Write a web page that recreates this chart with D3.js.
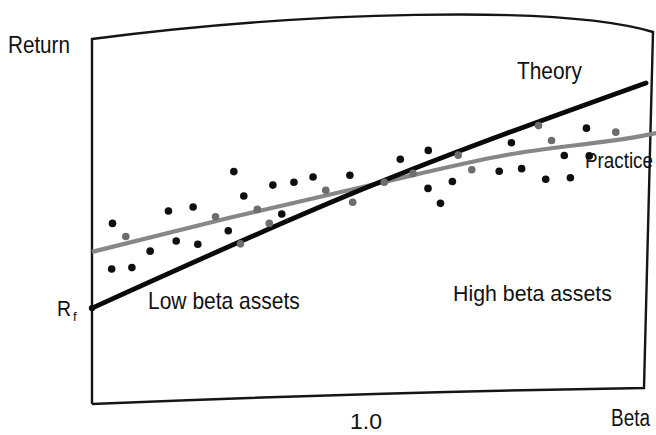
<!DOCTYPE html>
<html><head><meta charset="utf-8">
<script src="https://cdn.jsdelivr.net/npm/d3@7"></script>
<style>
html,body{margin:0;padding:0;background:#fff;}
svg{display:block;}
text{font-family:"Liberation Sans",Arial,sans-serif;fill:#111;}
</style></head>
<body>
<svg id="chart" width="656" height="435"></svg>
<script>
// ---- data ----
const betaDomain = [0, 2];
const returnDomain = [0, 100];
const xTickValues = [1.0];
const xTickLabels = ["1.0"];
const riskFree = 26;
const theoryBeta = [0, 1, 2];
const theoryReturn = [26, 59.3, 87.7];
const practiceBeta = [0, 0.5, 1.0, 1.5, 2.0, 2.04];
const practiceReturn = [41.4, 50.8, 59.6, 68, 73.4, 74.0];
const blackBeta = [0.074,0.071,0.144,0.210,0.276,0.304,0.365,0.382,0.512,0.548,0.492,0.653,0.685,0.729,0.798,0.931,1.113,1.214,1.213,1.258,1.301,1.470,1.514,1.551,1.638,1.705,1.727,1.785,1.795];
const blackReturn = [49.2,36.7,37.1,41.6,52.6,44.4,53.7,43.5,63.4,56.7,47.2,59.7,51.8,60.5,61.9,62.4,66.8,69.2,58.8,54.7,60.7,63.5,71.3,64.2,61.3,67.8,61.7,75.3,67.7];
const grayBeta = [0.122,0.446,0.597,0.536,0.640,0.844,0.941,1.055,1.159,1.322,1.371,1.612,1.659,1.891];
const grayReturn = [45.6,51.0,53.1,43.6,49.2,58.3,55.0,60.5,62.9,67.9,63.9,76.0,71.9,74.2];

// ---- layout ----
const svg = d3.select("#chart");
const x = d3.scaleLinear().domain(betaDomain).range([92, 646]);
const y = d3.scaleLinear().domain(returnDomain).range([403, 38]);

// frame (slightly warped, as in the scanned page)
const frame = d3.path();
frame.moveTo(92, 404);
frame.lineTo(92, 39);
frame.bezierCurveTo(300, 12, 560, 4, 653, 32);
frame.lineTo(644, 388);
frame.quadraticCurveTo(380, 392, 92, 404);
svg.append("path").attr("d", frame.toString())
  .attr("fill", "none").attr("stroke", "#151515").attr("stroke-width", 2.4);

// practice curve
svg.append("path")
  .attr("d", d3.line().curve(d3.curveMonotoneX).x(d => x(d[0])).y(d => y(d[1]))(practiceBeta.map((b, i) => [b, practiceReturn[i]])))
  .attr("fill", "none").attr("stroke", "#878787").attr("stroke-width", 4.2);

// theory line
svg.append("path")
  .attr("d", d3.line().curve(d3.curveMonotoneX).x(d => x(d[0])).y(d => y(d[1]))(theoryBeta.map((b, i) => [b, theoryReturn[i]])))
  .attr("fill", "none").attr("stroke", "#0a0a0a").attr("stroke-width", 4.8)
  .attr("stroke-linecap", "round");

// dots
svg.append("g").selectAll("circle").data(blackBeta.map((b, i) => [b, blackReturn[i]]))
  .join("circle").attr("cx", d => x(d[0])).attr("cy", d => y(d[1])).attr("r", 3.8).attr("fill", "#0f0f0f");
svg.append("g").selectAll("circle").data(grayBeta.map((b, i) => [b, grayReturn[i]]))
  .join("circle").attr("cx", d => x(d[0])).attr("cy", d => y(d[1])).attr("r", 3.8).attr("fill", "#6c6c6c");

// Rf point
svg.append("circle").attr("cx", x(0)).attr("cy", y(riskFree)).attr("r", 3.2).attr("fill", "#111");

// texts (horizontally condensed, like the scanned Helvetica)
function label(str, x0, y0, size, width) {
  const t = svg.append("text").attr("font-size", size).text(str);
  const w = t.node().getComputedTextLength();
  const sx = width / w;
  t.attr("transform", `translate(${x0},${y0}) scale(${sx},1)`);
  return t;
}
label("Return", 8, 53, 23, 62);
label("Theory", 517, 79, 23, 65);
label("Practice", 585, 168, 22, 68);
label("R", 57, y(riskFree) + 8, 22, 14);
svg.append("text").attr("x", 73).attr("y", y(riskFree) + 13).attr("font-size", 13).text("f");
label("High beta assets", 453, 301, 23, 159);
label("Low beta assets", 148, 309, 23, 152);
xTickValues.forEach((d, i) => label(xTickLabels[i], x(d) - 19, 429, 22, 32));
label("Beta", 611, 426, 23, 39);
</script>
</body></html>
